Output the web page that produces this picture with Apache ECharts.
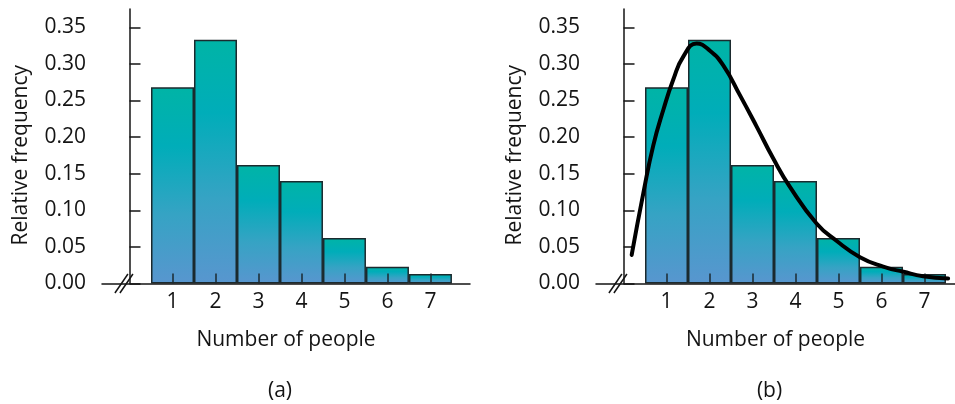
<!DOCTYPE html>
<html><head><meta charset="utf-8">
<script src="https://cdn.jsdelivr.net/npm/echarts@6/dist/echarts.min.js"></script>
<style>html,body{margin:0;padding:0;background:#fff}#c{width:955px;height:404px}</style>
</head><body><div id="c"></div>
<script>
// ---- data ----
const categories = [1, 2, 3, 4, 5, 6, 7];
const relFreq = [0.268, 0.333, 0.162, 0.140, 0.062, 0.023, 0.013];
const yTickValues = [0, 0.05, 0.10, 0.15, 0.20, 0.25, 0.30, 0.35];
const curveX = [0.19, 0.46, 0.69, 0.93, 1.16, 1.39, 1.70, 2.01, 2.32, 2.71, 3.10, 3.48, 3.87, 4.49, 4.96, 5.50, 6.04, 6.51, 6.97, 7.55];
const curveY = [0.039, 0.123, 0.188, 0.238, 0.279, 0.310, 0.328, 0.318, 0.298, 0.257, 0.214, 0.171, 0.132, 0.082, 0.058, 0.036, 0.023, 0.016, 0.010, 0.007];
const panelLabels = ['(a)', '(b)'];
const xName = 'Number of people';
const yName = 'Relative frequency';

// ---- styling ----
const FONT = 'Open Sans';
const FS = 21;
const INK = '#141414';
const barGrad = new echarts.graphic.LinearGradient(0, 0, 0, 1, [
  { offset: 0, color: '#00b4a6' },
  { offset: 0.3, color: '#00adb9' },
  { offset: 0.65, color: '#36a3c4' },
  { offset: 1, color: '#5896cf' }
]);

const chart = echarts.init(document.getElementById('c'), null, { renderer: 'canvas' });

const grids = [
  { left: 102, top: 9, width: 368, height: 274.5 },
  { left: 596, top: 9, width: 359, height: 274.5 }
];
const xMax = [7.92, 7.71];

function xAxisFor(i) {
  return {
    type: 'value', gridIndex: i, min: -0.64, max: xMax[i], z: 3,
    splitLine: { show: false },
    axisLine: { show: true, onZero: false, lineStyle: { color: INK, width: 1.5 } },
    axisTick: { show: true, inside: true, length: 10, customValues: categories, lineStyle: { color: '#1b2a30', width: 1.5 } },
    axisLabel: { customValues: categories, margin: 8, fontFamily: FONT, fontSize: FS, color: INK },
    name: xName, nameLocation: 'middle', nameGap: 46,
    nameTextStyle: { fontFamily: FONT, fontSize: FS, color: INK }
  };
}
function yAxisFor(i) {
  return {
    type: 'value', gridIndex: i, min: 0, max: 0.375,
    splitLine: { show: false },
    axisLine: { show: true, lineStyle: { color: INK, width: 1.5 } },
    axisTick: { show: true, inside: true, length: 11, customValues: yTickValues, lineStyle: { color: INK, width: 1.5 } },
    axisLabel: { customValues: yTickValues, margin: 16, fontFamily: FONT, fontSize: FS, color: INK,
      formatter: v => v.toFixed(2) },
    name: yName, nameLocation: 'middle', nameGap: 70, nameRotate: 90,
    nameTextStyle: { fontFamily: FONT, fontSize: FS, color: INK, padding: [0, 18, 0, 0] }
  };
}

const barData = categories.map((c, k) => [c, relFreq[k]]);
const curveData = curveX.map((x, k) => [x, curveY[k]]);

function barSeries(i) {
  return {
    type: 'bar', xAxisIndex: i, yAxisIndex: i, data: barData, barWidth: 43,
    itemStyle: { color: barGrad, borderColor: '#1b2a2e', borderWidth: 1.5 },
    silent: true, animation: false
  };
}

chart.setOption({
  animation: false,
  grid: grids,
  xAxis: [xAxisFor(0), xAxisFor(1)],
  yAxis: [yAxisFor(0), yAxisFor(1)],
  series: [
    barSeries(0),
    barSeries(1),
    {
      type: 'line', xAxisIndex: 1, yAxisIndex: 1, data: curveData, smooth: 0.5,
      showSymbol: false, z: 4, lineStyle: { color: '#000', width: 4, cap: 'round' }, silent: true
    }
  ]
});

// axis break marks and panel labels
const breakAt = -0.13;
const graphics = [];
[0, 1].forEach(i => {
  const p = chart.convertToPixel({ gridIndex: i }, [breakAt, 0]);
  [-2.5, 2.5].forEach(dx => {
    graphics.push({
      type: 'line', z: 10,
      shape: { x1: p[0] + dx - 6.5, y1: p[1] + 9.5, x2: p[0] + dx + 6.5, y2: p[1] - 9.5 },
      style: { stroke: INK, lineWidth: 1.5 }
    });
  });
  const g = grids[i];
  graphics.push({
    type: 'text', z: 10,
    x: g.left + g.width / 2 - 6, y: 391,
    style: { text: panelLabels[i], font: FS + 'px "' + FONT + '"', fill: INK, align: 'center', verticalAlign: 'middle' }
  });
});
chart.setOption({ graphic: graphics });
</script>
</body></html>
